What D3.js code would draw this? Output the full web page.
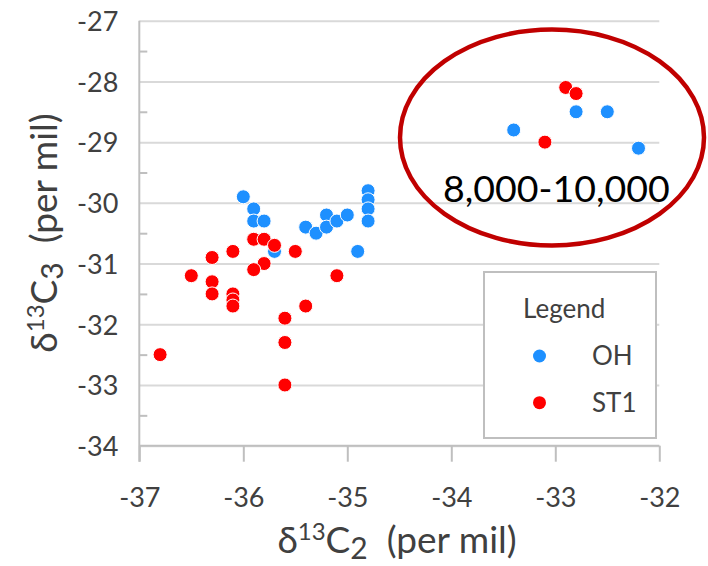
<!DOCTYPE html>
<html lang="en">
  <head>
    <meta charset="UTF-8" />
    <title>d13C2 vs d13C3</title>
    <script src="https://cdn.jsdelivr.net/npm/d3@7"></script>
    <style>
      body {
        margin: 0;
        padding: 0;
        background: #fff;
        font-family: Lato, 'Open Sans', sans-serif;
      }
      svg {
        display: block;
      }
      .axis text {
        font-family: Lato, sans-serif;
        font-size: 27px;
        fill: #404040;
      }
      .axis path {
        display: none;
      }
    </style>
  </head>

  <body>
    <script>
      // OH series (delta13C2, delta13C3)
      const ohC2 = [-36.0, -35.9, -35.9, -35.8, -35.7, -35.4, -35.3, -35.2, -35.2, -35.1, -35.0, -34.9, -34.8, -34.8, -34.8, -34.8, -33.4, -32.8, -32.5, -32.2];
      const ohC3 = [-29.9, -30.1, -30.3, -30.3, -30.8, -30.4, -30.5, -30.2, -30.4, -30.3, -30.2, -30.8, -29.8, -29.95, -30.1, -30.3, -28.8, -28.5, -28.5, -29.1];

      // ST1 series
      const st1C2 = [-35.9, -35.8, -35.7, -36.1, -35.5, -36.3, -35.8, -35.9, -36.5, -35.1, -36.3, -36.3, -36.1, -36.1, -36.1, -35.4, -35.6, -35.6, -35.6, -36.8, -32.9, -32.8, -33.1];
      const st1C3 = [-30.6, -30.6, -30.7, -30.8, -30.8, -30.9, -31.0, -31.1, -31.2, -31.2, -31.3, -31.5, -31.5, -31.6, -31.7, -31.7, -31.9, -32.3, -33.0, -32.5, -28.1, -28.2, -29.0];

      const xTicks = [-37, -36, -35, -34, -33, -32];
      const yTicks = [-34, -33, -32, -31, -30, -29, -28, -27];
      const yMinorTicks = [-33.5, -32.5, -31.5, -30.5, -29.5, -28.5, -27.5];

      const seriesNames = ['OH', 'ST1'];
      const seriesColors = ['#1e90ff', '#ff0000'];
      const noteLabel = '8,000-10,000';

      const width = 708;
      const height = 566;

      const x = d3.scaleLinear().domain([-37, -32]).range([139.3, 659.3]);
      const y = d3.scaleLinear().domain([-34, -27]).range([445.7, 20.7]);

      // plain hyphen instead of the unicode minus
      const fmt = (d) => String(d);

      const svg = d3.select('body').append('svg').attr('width', width).attr('height', height);

      // horizontal gridlines
      svg
        .append('g')
        .attr('transform', `translate(${x(-37)},0)`)
        .call(d3.axisRight(y).tickValues(yTicks).tickSize(x(-32) - x(-37)).tickFormat(''))
        .call((g) => g.select('.domain').remove())
        .call((g) => g.selectAll('line').attr('stroke', '#d9d9d9').attr('stroke-width', 2));

      // minor ticks inside the y axis
      svg
        .append('g')
        .attr('transform', `translate(${x(-37)},0)`)
        .call(d3.axisRight(y).tickValues(yMinorTicks).tickSize(8).tickFormat(''))
        .call((g) => g.select('.domain').remove())
        .call((g) => g.selectAll('line').attr('stroke', '#bfbfbf').attr('stroke-width', 2));

      // y axis labels
      svg
        .append('g')
        .attr('class', 'axis')
        .attr('transform', `translate(${x(-37)},0)`)
        .call(d3.axisLeft(y).tickValues(yTicks).tickSize(0).tickPadding(21).tickFormat(fmt))
        .call((g) => g.selectAll('text').attr('dy', '0.36em'));

      // x axis
      svg
        .append('g')
        .attr('class', 'axis')
        .attr('transform', `translate(0,${y(-34)})`)
        .call(d3.axisBottom(x).tickValues(xTicks).tickSize(16).tickPadding(26).tickFormat(fmt))
        .call((g) => g.selectAll('line').attr('stroke', '#bfbfbf').attr('stroke-width', 2));

      // axis lines
      svg
        .append('line')
        .attr('x1', x(-37))
        .attr('x2', x(-32))
        .attr('y1', y(-34))
        .attr('y2', y(-34))
        .attr('stroke', '#bfbfbf')
        .attr('stroke-width', 2);
      svg
        .append('line')
        .attr('x1', x(-37))
        .attr('x2', x(-37))
        .attr('y1', y(-27))
        .attr('y2', y(-34) + 16)
        .attr('stroke', '#bfbfbf')
        .attr('stroke-width', 2);

      // points
      const series = [
        ohC2.map((v, i) => [v, ohC3[i]]),
        st1C2.map((v, i) => [v, st1C3[i]])
      ];
      series.forEach((pts, s) => {
        svg
          .append('g')
          .selectAll('circle')
          .data(pts)
          .enter()
          .append('circle')
          .attr('cx', (d) => x(d[0]))
          .attr('cy', (d) => y(d[1]))
          .attr('r', 7)
          .attr('fill', seriesColors[s])
          .attr('stroke', '#fff')
          .attr('stroke-width', 1);
      });

      // legend
      const legend = svg.append('g');
      legend
        .append('rect')
        .attr('x', 484)
        .attr('y', 272)
        .attr('width', 172)
        .attr('height', 166)
        .attr('fill', '#fff')
        .attr('stroke', '#bfbfbf')
        .attr('stroke-width', 2);
      legend
        .append('text')
        .attr('x', 523)
        .attr('y', 318)
        .attr('font-size', 26)
        .attr('fill', '#404040')
        .text('Legend');
      seriesNames.forEach((name, i) => {
        legend
          .append('circle')
          .attr('cx', 539.5)
          .attr('cy', 356 + i * 46.7)
          .attr('r', 6.5)
          .attr('fill', seriesColors[i]);
        legend
          .append('text')
          .attr('x', 592)
          .attr('y', 365 + i * 46.7)
          .attr('font-size', 26)
          .attr('fill', '#404040')
          .text(name);
      });

      // highlighted cluster
      svg
        .append('ellipse')
        .attr('cx', 552)
        .attr('cy', 137.5)
        .attr('rx', 152)
        .attr('ry', 108)
        .attr('fill', 'none')
        .attr('stroke', '#c00000')
        .attr('stroke-width', 4.5);
      svg
        .append('text')
        .attr('x', 443)
        .attr('y', 202)
        .attr('font-size', 37.5)
        .attr('fill', '#000')
        .text(noteLabel);

      // axis titles
      const titleParts = (sel, sub) => {
        sel.append('tspan').text('δ');
        sel.append('tspan').attr('font-size', 24).attr('dy', -13).text('13');
        sel.append('tspan').attr('dy', 13).text('C');
        sel.append('tspan').attr('font-size', 30).attr('dy', 6).text(sub);
        sel.append('tspan').attr('dy', -6).text('\u00a0 (per mil)');
      };

      const xTitle = svg
        .append('text')
        .attr('x', 397)
        .attr('y', 553)
        .attr('text-anchor', 'middle')
        .attr('font-size', 37)
        .attr('fill', '#404040');
      titleParts(xTitle, '2');

      const yTitle = svg
        .append('text')
        .attr('transform', 'translate(57,233) rotate(-90)')
        .attr('text-anchor', 'middle')
        .attr('font-size', 37)
        .attr('fill', '#404040');
      titleParts(yTitle, '3');
    </script>
  </body>
</html>
